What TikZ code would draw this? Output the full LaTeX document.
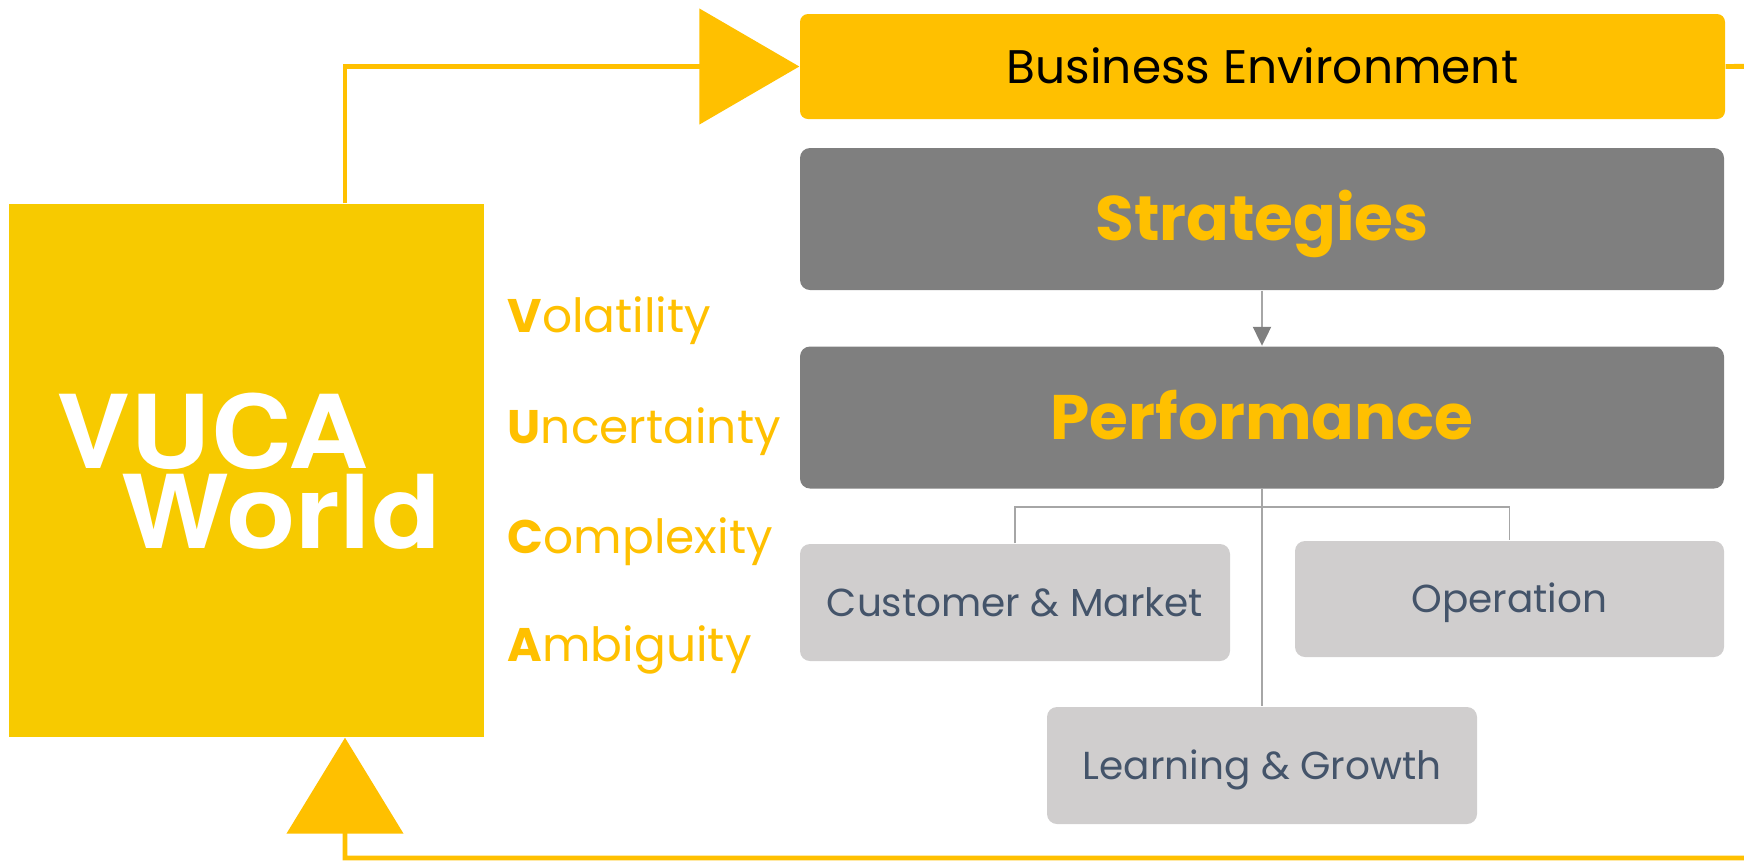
\documentclass[tikz,border=0pt]{standalone}
\usepackage{fontspec}
\setmainfont{Poppins}
\newfontfamily\vucafont{TeX Gyre Heros}
\usetikzlibrary{arrows.meta}
\definecolor{vucaYellow}{HTML}{F7CA00}
\definecolor{loopGold}{HTML}{FFC000}
\definecolor{boxGray}{HTML}{7F7F7F}
\definecolor{lightGray}{HTML}{D0CECE}
\definecolor{slateText}{HTML}{44546A}
\definecolor{linkGray}{HTML}{A6A6A6}
\tikzset{
	loopline/.style={draw=loopGold, line width=1.4pt},
	linkline/.style={draw=linkGray, line width=0.5pt},
	envbox/.style={fill=loopGold, rounded corners=0.8mm, minimum width=92.5mm, minimum height=10.5mm, inner sep=0pt, text height=9.4pt, text depth=0pt, font=\fontsize{13.4}{16}\selectfont},
	darkbox/.style={fill=boxGray, rounded corners=1mm, minimum width=92.4mm, minimum height=14.2mm, inner sep=0pt, text height=12.5pt, text depth=0pt, text=loopGold, font=\bfseries\fontsize{17.9}{22}\selectfont},
	lightbox/.style={fill=lightGray, rounded corners=1mm, minimum width=43mm, minimum height=11.7mm, inner sep=0pt, text height=7.8pt, text depth=0pt, text=slateText, font=\fontsize{11.1}{14}\selectfont},
	vucaword/.style={text=loopGold, anchor=base west, inner sep=0pt, font=\fontsize{13.4}{16}\selectfont},
	vucatitle/.style={text=white, anchor=base west, inner sep=0pt, align=left, font=\vucafont\bfseries\fontsize{29}{22.5}\selectfont}
}

\begin{document}
\begin{tikzpicture}[x=0.1mm, y=-0.1mm]
			%%%%% START %%%%%
			
			\useasboundingbox (0, 0) rectangle (1744, 861);
			\clip (0, 0) rectangle (1744, 861);
			
			% left block
			\node[fill=vucaYellow, minimum width=47.5mm, minimum height=53.3mm, inner sep=0pt] (vuca) at (246.5, 470.5) {};
			\node[vucatitle] (vucaText) at (56, 548) {\scalebox{1.09}[1]{VUCA}\\\hspace*{6.5mm}\scalebox{1.12}[1]{World}};
			
			\node[vucaword] (vol) at (507, 332) {\textbf{V}olatility};
			\node[vucaword] (unc) at (507, 443) {\textbf{U}ncertainty};
			\node[vucaword] (com) at (507, 553) {\textbf{C}omplexity};
			\node[vucaword] (amb) at (507, 661) {\textbf{A}mbiguity};
			
			% right column
			\node[envbox] (env) at (1262.5, 66.5) {Business Environment};
			\node[darkbox] (strat) at (1262, 219) {Strategies};
			\node[darkbox] (perf) at (1262, 417.5) {Performance};
			
			\node[lightbox] (cust) at (1015, 602.5) {Customer \& Market};
			\node[lightbox, minimum width=42.9mm, minimum height=11.6mm] (oper) at (1509.5, 599) {Operation};
			\node[lightbox] (learn) at (1262, 765.5) {Learning \& Growth};
			
			% links
			\draw[draw=linkGray, line width=0.6pt, -{Triangle[length=1.9mm, width=1.8mm, color=boxGray]}] (strat.south) -- (perf.north);
			
			\coordinate (branch) at (1262, 507);
			\draw[linkline] (perf.south) -- (learn.north);
			\draw[linkline] (cust.north) |- (branch) -| (oper.north);
			
			% feedback loop
			\coordinate (ne) at (1800, 66);
			\coordinate (se) at (1800, 858);
			\draw[loopline, -{Triangle[length=10mm, width=11.5mm]}] ([xshift=9.85mm]vuca.north) |- (env.west);
			\draw[loopline, -{Triangle[length=9.6mm, width=11.6mm]}] (env.east) -- (ne) -- (se) -| ([xshift=9.85mm]vuca.south);
			
			%%%%% END %%%%%
		\end{tikzpicture}
\end{document}
